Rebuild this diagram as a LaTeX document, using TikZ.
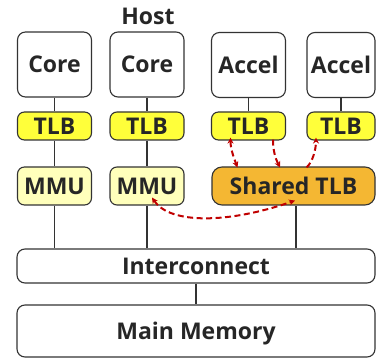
\documentclass[tikz,border=0pt]{standalone}
\usepackage{fontspec}
\setmainfont{Open Sans}
\usetikzlibrary{arrows.meta,calc}
\definecolor{edgegray}{HTML}{333333}
\definecolor{tlbyellow}{HTML}{FFFF3A}
\definecolor{mmuyellow}{HTML}{FFFFBB}
\definecolor{sharedorange}{HTML}{F4B733}
\definecolor{linkred}{HTML}{C00000}
\tikzset{
  label text/.style={font=\bfseries\fontsize{23}{25}\selectfont, text=black!85},
  box/.style={draw=edgegray, line width=1.1pt, rounded corners=8pt, inner sep=0pt,
    text height=16.5pt, text depth=0pt, label text},
  unit/.style={box, fill=white, minimum width=74pt, minimum height=65pt},
  tlbbox/.style={box, fill=tlbyellow, minimum width=74pt, minimum height=28pt, rounded corners=7pt},
  mmubox/.style={box, fill=mmuyellow, minimum width=74pt, minimum height=38pt, rounded corners=7pt},
  wire/.style={draw=edgegray, line width=1.1pt},
  walk/.style={draw=linkred, line width=2pt, dash pattern=on 6pt off 3.5pt,
    >={Stealth[length=6pt,width=6pt]}}
}
\begin{document}
\begin{tikzpicture}[x=1pt,y=-1pt]
\useasboundingbox (0,0) rectangle (376,358);

% processing elements
\node[unit] (core1) at (54.5,64.5) {Core};
\node[unit] (core2) at (147,64.5) {Core};
\node[unit] (acc1) at (248.5,65) {Accel};
\node[unit, minimum width=68pt] (acc2) at (341,65) {Accel};
\node[label text, inner sep=0pt] (host) at (148,16) {Host};

% private TLBs
\node[tlbbox] (tlb1) at (54.5,126) {TLB};
\node[tlbbox] (tlb2) at (147,126) {TLB};
\node[tlbbox] (tlb3) at (248.5,126) {TLB};
\node[tlbbox, minimum width=68pt] (tlb4) at (341,126) {TLB};

% page-walk units
\node[mmubox] (mmu1) at (54.5,186) {MMU};
\node[mmubox] (mmu2) at (147,186) {MMU};
\node[box, fill=sharedorange, minimum width=163pt, minimum height=38pt, rounded corners=10pt] (stlb) at (293.5,186) {Shared TLB};

% memory system
\node[box, fill=white, minimum width=358pt, minimum height=34pt] (ic) at (196,266) {Interconnect};
\node[box, fill=white, minimum width=358pt, minimum height=52pt] (mem) at (196,331) {Main Memory};

% vertical wires
\draw[wire] (core1) -- (tlb1);
\draw[wire] (core2) -- (tlb2);
\draw[wire] (acc1) -- (tlb3);
\draw[wire] (acc2) -- (tlb4);
\draw[wire] (tlb1) -- (mmu1);
\draw[wire] (tlb2) -- (mmu2);
\draw[wire] (mmu1.south) -- (mmu1.south |- ic.north);
\draw[wire] (mmu2.south) -- (mmu2.south |- ic.north);
\coordinate (stap) at ([xshift=2.5pt]stlb.south);
\draw[wire] (stap) -- (stap |- ic.north);
\draw[wire] (ic.south) -- (mem.north);

% TLB traffic
\coordinate (a1) at ([xshift=-18pt,yshift=3pt]tlb3.south);
\coordinate (b1) at ([xshift=-56pt,yshift=-1pt]stlb.north);
\draw[walk,<->] (a1) .. controls +(0,12) and +(-3,-8) .. (b1);
\coordinate (a2) at ([xshift=24.5pt,yshift=1pt]tlb3.south);
\coordinate (b2) at ([xshift=-13.5pt,yshift=-1pt]stlb.north);
\draw[walk,->] (a2) .. controls +(0,14) and +(-3,-6) .. (b2);
\coordinate (a3) at ([xshift=13pt,yshift=-1pt]stlb.north);
\coordinate (b3) at ([xshift=-25pt,yshift=3pt]tlb4.south);
\draw[walk,->] (a3) .. controls +(6,-5) and +(0,12) .. (b3);
\coordinate (a4) at ([xshift=5pt,yshift=8pt]mmu2.south);
\coordinate (b4) at ([xshift=-1pt,yshift=5pt]stap);
\draw[walk,<->] (a4) .. controls +(18,27) and +(-66,23) .. (b4);
\end{tikzpicture}
\end{document}
